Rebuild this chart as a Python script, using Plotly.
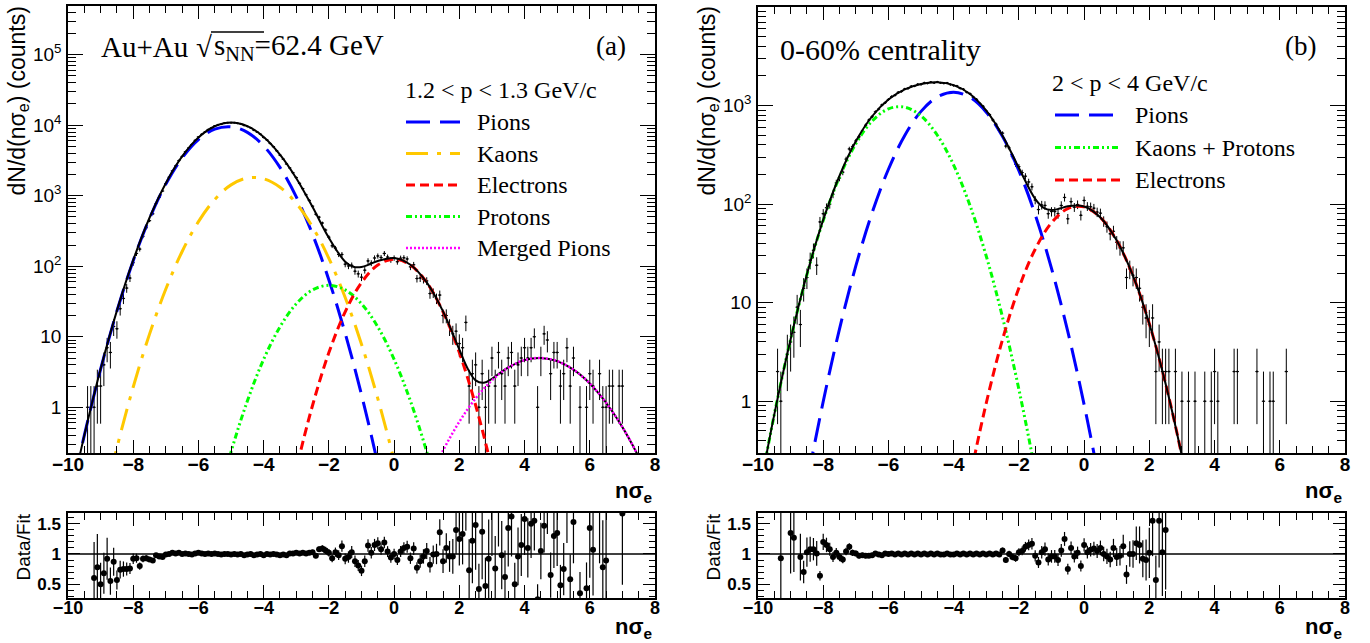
import numpy as np
import plotly.graph_objects as go

# ======================= DATA =======================
bin_width = 0.1

# ---- panel (a): histogram counts, bins starting at -9.4, width 0.1 ----
left_first_bin = -9.4
left_counts = [
    1, 1, 1, 2, 2, 4, 7, 6, 14, 13,                      # -9.4 .. -8.5
    25, 35, 49, 68, 112, 152, 175, 266, 351, 443,        # -8.4 .. -7.5
    554, 773, 949, 1166, 1492, 1828, 2247, 2646, 3149, 3605,   # -7.4 .. -6.5
    4205, 4754, 5327, 6095, 6829, 7418, 7986, 8693, 9157, 9772,  # -6.4 .. -5.5
    10113, 10353, 10719, 10871, 10816, 10874, 10620, 10469, 9911, 9607,  # -5.4 .. -4.5
    9207, 8486, 7996, 7457, 6684, 6187, 5514, 4963, 4339, 3762,  # -4.4 .. -3.5
    3303, 2813, 2476, 2121, 1809, 1499, 1260, 1032, 859, 711,    # -3.4 .. -2.5
    547, 497, 410, 326, 258, 195, 181, 147, 147, 107,            # -2.4 .. -1.5
    101, 103, 85, 78, 70, 88, 119, 111, 131, 140,                # -1.4 .. -0.5
    133, 152, 135, 123, 131, 116, 130, 132, 127, 98,             # -0.4 .. 0.5
    105, 67, 68, 65, 62, 41, 42, 35, 39, 20,                     # 0.6 .. 1.5
    20, 14, 11, 12, 8, 7, 16, 2, 3, 4,                           # 1.6 .. 2.5
    1, 3, 1, 2, 5, 2, 6, 3, 2, 5,                                # 2.6 .. 3.5
    6, 2, 4, 5, 7, 5, 7, 10, 1, 5,                               # 3.6 .. 4.5
    11, 9, 3, 6, 6, 2, 3, 7, 2, 5,                               # 4.6 .. 5.5
    0, 1, 0, 1, 3, 2, 0, 3, 1, 1,                                # 5.6 .. 6.5
    2, 2, 0, 2, 2,                                               # 6.6 .. 7.0
]
left_ratio = [
    None, None, 0.60, 0.78, 0.50, 0.68, 0.92, 0.55, 0.87, 0.57,
    0.74, 0.75, 0.75, 0.76, 0.92, 0.93, 0.80, 0.92, 0.93, 0.91,
    0.89, 0.98, 0.96, 0.95, 0.99, 1.00, 1.02, 1.01, 1.02, 1.00,
    1.01, 1.00, 0.99, 1.01, 1.02, 1.01, 1.00, 1.01, 1.00, 1.01,
    1.00, 0.99, 1.00, 1.00, 0.99, 1.00, 0.99, 1.00, 0.98, 0.99,
    1.00, 0.98, 0.99, 1.00, 0.98, 1.00, 0.99, 1.00, 0.99, 0.98,
    0.99, 0.98, 1.01, 1.01, 1.02, 1.01, 1.02, 1.01, 1.02, 1.03,
    0.97, 1.08, 1.09, 1.06, 1.02, 0.93, 1.03, 0.98, 1.13, 0.92,
    0.95, 1.03, 0.88, 0.81, 0.72, 0.88, 1.14, 1.02, 1.15, 1.18,
    1.08, 1.19, 1.04, 0.94, 1.00, 0.90, 1.04, 1.10, 1.12, 0.93,
    1.09, 0.77, 0.88, 0.96, 1.05, 0.82, 0.99, 1.00, 1.36, 0.88,
    1.10, 0.96, 0.96, 1.40, 1.25, 1.33, 1.85, 0.73, 1.22, 1.48,
    0.42, 1.37, 0.47, 0.92, 1.75, 0.76, 1.90, 0.98, 0.62, 1.43,
    1.62, 0.50, 0.96, 1.15, 1.58, 1.10, 1.50, 1.55, 0.25, 1.05,
    1.47, 2.00, 0.65, 1.30, 1.35, 0.48, 0.75, 1.90, 0.58, 1.53,
    None, 0.35, None, 0.43, 1.43, 1.07, None, 2.00, 0.78, 0.89,
    None, None, None, None, 1.67,
]

# ---- panel (b): histogram counts, bins starting at -9.4, width 0.1 ----
right_first_bin = -9.4
right_counts = [
    2, 1, 0, 3, 4, 5, 9, 6, 14, 18,                              # -9.4 .. -8.5
    27, 34, 24, 66, 80, 92, 100, 126, 164, 184,                  # -8.4 .. -7.5
    211, 286, 363, 385, 438, 482, 551, 632, 712, 771,            # -7.4 .. -6.5
    864, 921, 1016, 1070, 1153, 1234, 1273, 1362, 1393, 1476,    # -6.4 .. -5.5
    1493, 1569, 1577, 1644, 1640, 1699, 1683, 1730, 1701, 1739,  # -5.4 .. -4.5
    1698, 1681, 1696, 1631, 1595, 1581, 1495, 1463, 1368, 1321,  # -4.4 .. -3.5
    1217, 1157, 1050, 983, 879, 810, 714, 646, 559, 525,         # -3.4 .. -2.5
    388, 372, 304, 254, 240, 209, 192, 168, 150, 110,            # -2.4 .. -1.5
    88, 98, 97, 80, 84, 84, 80, 97, 117, 71,                     # -1.4 .. -0.5
    106, 93, 99, 77, 109, 95, 94, 91, 83, 81,                    # -0.4 .. 0.5
    67, 59, 50, 53, 41, 36, 36, 18, 22, 19,                      # 0.6 .. 1.5
    18, 14, 9, 7, 6, 7, 2, 4, 2, 2,                              # 1.6 .. 2.5
    2, 0, 2, 0, 1, 0, 1, 0, 1, 0,                                # 2.6 .. 3.5
    0, 1, 0, 1, 2, 1, 0, 0, 0, 0,                                # 3.6 .. 4.5
    2, 2, 0, 0, 0, 0, 0, 2, 0, 1,                                # 4.6 .. 5.5
    0, 1, 1, 0, 0, 0, 2,                                         # 5.6 .. 6.2
]
right_ratio = [
    None, 0.93, None, None, 1.35, 1.27, None, 0.95, 0.70, 1.03,
    1.08, 1.08, 1.01, 0.64, 1.20, 1.15, 1.08, 0.95, 1.02, 0.95,
    0.91, 1.04, 1.12, 1.02, 1.01, 0.97, 0.98, 0.97, 0.97, 0.98,
    1.01, 0.99, 0.98, 1.01, 1.00, 1.01, 0.99, 1.01, 0.99, 1.01,
    0.99, 1.01, 0.99, 1.01, 0.99, 1.01, 0.99, 1.01, 0.99, 1.01,
    0.99, 0.99, 1.01, 0.99, 0.99, 1.01, 0.99, 1.01, 0.99, 1.01,
    0.99, 1.01, 0.99, 1.01, 0.99, 1.01, 0.99, 1.01, 0.99, 1.06,
    0.90, 1.00, 0.95, 0.93, 1.03, 1.05, 1.12, 1.15, 1.17, 0.97,
    0.86, 1.03, 1.08, 0.91, 0.96, 0.96, 0.90, 1.06, 1.25, 0.75,
    1.10, 0.96, 1.02, 0.80, 1.15, 1.03, 1.07, 1.09, 1.05, 1.10,
    1.00, 0.96, 0.91, 1.10, 0.95, 0.97, 1.13, 0.66, 1.00, 1.00,
    1.18, 1.15, 0.92, 0.90, 1.02, 1.55, 0.57, 1.55, 1.03, 1.40,
] + [None] * 37

# ---- fit curves, sampled every 0.5 in n-sigma_e ----
curve_x = [-10.0, -9.5, -9.0, -8.5, -8.0, -7.5, -7.0, -6.5, -6.0, -5.5,
           -5.0, -4.5, -4.0, -3.5, -3.0, -2.5, -2.0, -1.5, -1.0, -0.5,
           0.0, 0.5, 1.0, 1.5, 2.0, 2.5, 3.0, 3.5, 4.0, 4.5,
           5.0, 5.5, 6.0, 6.5, 7.0, 7.5, 8.0]
N = None
a_pions = [0.035, 0.40, 3.47, 23.2, 120, 476, 1459, 3443, 6266, 8790,
           9500, 7920, 5080, 2520, 962, 283, 64, 11.2, 1.51, 0.157,
           0.0126, N, N, N, N, N, N, N, N, N, N, N, N, N, N, N, N]
a_kaons = [N, N, 0.029, 0.268, 1.94, 10.9, 47.5, 162, 429, 885,
           1425, 1783, 1738, 1321, 782, 360, 129, 36.1, 7.85, 1.33,
           0.175, 0.018, N, N, N, N, N, N, N, N, N, N, N, N, N, N, N]
a_protons = [N, N, N, N, N, N, N, N, N, 0.033,
             0.234, 1.23, 4.8, 13.8, 29.4, 46.2, 53.7, 46.2, 29.4, 13.8,
             4.8, 1.23, 0.234, 0.033, N, N, N, N, N, N, N, N, N, N, N, N, N]
a_electrons = [N, N, N, N, N, N, N, N, N, N, N, N, N, 0.011, 0.132, 1.07, 5.97, 22.6, 58.7, 104,
               126, 104, 58.7, 22.6, 5.97, 1.07, 0.132, 0.011, N, N, N, N, N, N, N, N, N]
a_merged = [N, N, N, N, N, N, N, N, N, N, N, N, N, N, N, N, N, N, N, N, N, N,
            0.08, 0.244, 0.624, 1.34, 2.41, 3.66, 4.67, 5.0, 4.51, 3.42, 2.18, 1.16, 0.524, 0.198, 0.063]
a_total_x = [-10, -9.5, -9, -8.5, -8, -7.5, -7, -6.5, -6, -5.5, -5, -4.5, -4, -3.5, -3, -2.5,
             -2, -1.5, -1.25, -1, -0.75, -0.5, 0, 0.5, 1, 1.5, 2, 2.25, 2.5, 2.75, 3, 3.25,
             3.5, 4, 4.5, 5, 5.5, 6, 6.5, 7, 7.5, 8]
a_total = [0.035, 0.40, 3.5, 23.5, 122, 487, 1507, 3605, 6695, 9675, 10925, 9704, 6820, 3839, 1774, 690,
           253, 116, 98.2, 97.5, 106.7, 119, 131, 105, 59, 22.9, 6.6, 3.58, 2.41, 2.23, 2.54, 3.08,
           3.67, 4.67, 5.0, 4.51, 3.42, 2.18, 1.16, 0.524, 0.198, 0.063]

b_pions = [N, N, 0.017, 0.145, 0.995, 5.42, 23.6, 81.8, 226, 498,
           873, 1222, 1362, 1211, 857, 484, 218, 78.2, 22.3, 5.09,
           0.925, 0.134, 0.0155, N, N, N, N, N, N, N, N, N, N, N, N, N, N]
b_kaons_protons = [0.1, 0.736, 4.26, 19.3, 68.2, 189, 410, 697, 927, 964,
                   784, 500, 249, 97, 29.6, 7.08, 1.32, 0.194, 0.022, N,
                   N, N, N, N, N, N, N, N, N, N, N, N, N, N, N, N, N]
b_electrons = [N, N, N, N, N, N, N, N, N, N, N, N, 0.02, 0.163, 0.96, 4.25, 14.1, 34.9, 64.7, 90,
               93.8, 73.1, 42.7, 18.7, 6.12, 1.5, 0.276, 0.038, N, N, N, N, N, N, N, N, N]
b_total_x = [-10, -9.5, -9, -8.5, -8, -7.5, -7, -6.5, -6, -5.5, -5, -4.5, -4, -3.5, -3, -2.5,
             -2, -1.5, -1.25, -1, -0.75, -0.5, 0, 0.5, 1, 1.5, 2, 2.5, 3, 3.5]
b_total = [0.1, 0.736, 4.26, 19.4, 69.2, 194, 434, 779, 1153, 1462, 1657, 1722, 1611, 1308, 888, 495,
           233, 113, 92.3, 87, 90.1, 95.1, 94.7, 73.2, 42.7, 18.7, 6.12, 1.5, 0.276, 0.038]

# tick labels
x_ticks = [-10, -8, -6, -4, -2, 0, 2, 4, 6, 8]
a_ytick_vals = [1, 10, 100, 1000, 10000, 100000]
a_ytick_text = ["1", "10", "10<sup>2</sup>", "10<sup>3</sup>", "10<sup>4</sup>", "10<sup>5</sup>"]
b_ytick_vals = [1, 10, 100, 1000, 10000]
b_ytick_text = ["1", "10", "10<sup>2</sup>", "10<sup>3</sup>", "10<sup>4</sup>"]
r_ytick_vals = [0.5, 1, 1.5]
r_ytick_text = ["0.5", "1", "1.5"]

# ======================= FIGURE =======================
W, H = 1370, 643
def PX(v): return v / W
def PY(v): return 1 - v / H

SANS = "Liberation Sans"
SERIF = "Liberation Serif"

C_PI = "#0000ff"
C_K = "#ffc800"
C_E = "#ff0000"
C_P = "#00ff00"
C_M = "#ff00ff"

D_PI = "24px,10px"
D_K = "22px,9px,4px,9px"
D_E = "9px,5px"
D_P = "6px,3px,2px,3px,2px,3px"
D_M = "2px,2px"

fig = go.Figure()

def hist_points(first, counts, xa, ya):
    c = np.array(counts, dtype=float)
    x = np.round(first + bin_width * np.arange(len(c)), 3)
    m = c > 0
    c, x = c[m], x[m]
    e = np.sqrt(c)
    low = np.maximum(c - e, 0.02)
    fig.add_trace(go.Scatter(
        x=x, y=c, mode="markers", xaxis=xa, yaxis=ya,
        marker=dict(size=2, color="black"),
        error_y=dict(type="data", symmetric=False, array=e, arrayminus=c - low,
                     color="black", thickness=1, width=0),
        error_x=dict(type="constant", value=bin_width / 2, color="black", thickness=1, width=0),
        showlegend=False, hoverinfo="skip"))

def ratio_points(first, counts, ratio, xa, ya):
    c = np.array(counts, dtype=float)
    r = np.array([np.nan if v is None else v for v in ratio], dtype=float)
    x = np.round(first + bin_width * np.arange(len(c)), 3)
    m = ~np.isnan(r) & (c > 0)
    x, r, c = x[m], r[m], c[m]
    e = r / np.sqrt(c)
    fig.add_trace(go.Scatter(
        x=x, y=r, mode="markers", xaxis=xa, yaxis=ya,
        marker=dict(size=6, color="black"),
        error_y=dict(type="data", array=e, color="black", thickness=1.2, width=0),
        showlegend=False, hoverinfo="skip", cliponaxis=True))

def curve(xs, ys, color, dash, width, xa, ya):
    pts = [(a, b) for a, b in zip(xs, ys) if b is not None]
    fig.add_trace(go.Scatter(
        x=[p[0] for p in pts], y=[p[1] for p in pts], mode="lines",
        xaxis=xa, yaxis=ya,
        line=dict(color=color, dash=dash, width=width, shape="spline", smoothing=1.0),
        showlegend=False, hoverinfo="skip"))

# panel (a)
hist_points(left_first_bin, left_counts, "x", "y")
curve(curve_x, a_pions, C_PI, D_PI, 3, "x", "y")
curve(curve_x, a_kaons, C_K, D_K, 3, "x", "y")
curve(curve_x, a_protons, C_P, D_P, 3, "x", "y")
curve(curve_x, a_electrons, C_E, D_E, 3, "x", "y")
curve(a_total_x, a_total, "black", "solid", 2, "x", "y")
curve(curve_x, a_merged, C_M, D_M, 2.5, "x", "y")
ratio_points(left_first_bin, left_counts, left_ratio, "x2", "y2")

# panel (b)
hist_points(right_first_bin, right_counts, "x3", "y3")
curve(curve_x, b_pions, C_PI, D_PI, 3, "x3", "y3")
curve(curve_x, b_kaons_protons, C_P, D_P, 3, "x3", "y3")
curve(curve_x, b_electrons, C_E, D_E, 3, "x3", "y3")
curve(b_total_x, b_total, "black", "solid", 2, "x3", "y3")
ratio_points(right_first_bin, right_counts, right_ratio, "x4", "y4")

def minor_log(lo, hi):
    out = []
    for d in range(-1, 6):
        for k in range(2, 10):
            v = k * 10 ** d
            if lo <= v <= hi:
                out.append(v)
    return out

axis_common = dict(showline=True, linecolor="black", linewidth=1.5, mirror="allticks",
                   ticks="inside", tickcolor="black", tickwidth=1.2, showgrid=False,
                   zeroline=False, automargin=False)

def xaxis_cfg(domain, size, anchor):
    return dict(axis_common, domain=domain, range=[-10, 8], tickvals=x_ticks,
                ticklen=13, anchor=anchor, ticklabelstandoff=-7,
                minor=dict(dtick=0.5, tick0=0, ticklen=7, ticks="inside", tickcolor="black", tickwidth=1.2),
                tickfont=dict(family=SANS, size=size, color="black", weight="bold"))

xa_dom = [PX(68), PX(655)]
xb_dom = [PX(758), PX(1345)]
main_dom_a = [PY(453), PY(6)]
main_dom_b = [PY(453), PY(7)]
ratio_dom = [PY(598), PY(513)]

ya_range = [np.log10(0.225), 5.69]
yb_range = [-0.525, 4.0]

def ylog_cfg(domain, rng, vals, text, anchor):
    return dict(axis_common, domain=domain, type="log", range=rng, tickvals=vals, ticktext=text,
                ticklen=15, anchor=anchor, ticklabelstandoff=1,
                minor=dict(tickvals=minor_log(10 ** rng[0], 10 ** rng[1]), ticklen=8,
                           ticks="inside", tickcolor="black", tickwidth=1.2),
                tickfont=dict(family=SANS, size=19, color="black"))

def yratio_cfg(anchor):
    return dict(axis_common, domain=ratio_dom, range=[0.27, 1.68], tickvals=r_ytick_vals,
                ticktext=r_ytick_text, ticklen=12, anchor=anchor, ticklabelstandoff=2,
                minor=dict(dtick=0.1, tick0=0, ticklen=6, ticks="inside", tickcolor="black", tickwidth=1.2),
                tickfont=dict(family=SANS, size=17, color="black", weight="bold"))

fig.update_layout(
    width=W, height=H, margin=dict(l=0, r=0, t=0, b=0, autoexpand=False),
    paper_bgcolor="white", plot_bgcolor="white", showlegend=False,
    xaxis=xaxis_cfg(xa_dom, 19, "y"),
    yaxis=ylog_cfg(main_dom_a, ya_range, a_ytick_vals, a_ytick_text, "x"),
    xaxis2=xaxis_cfg(xa_dom, 18, "y2"),
    yaxis2=yratio_cfg("x2"),
    xaxis3=xaxis_cfg(xb_dom, 19, "y3"),
    yaxis3=ylog_cfg(main_dom_b, yb_range, b_ytick_vals, b_ytick_text, "x3"),
    xaxis4=xaxis_cfg(xb_dom, 18, "y4"),
    yaxis4=yratio_cfg("x4"),
)

shapes = []
for xa, ya in (("x2", "y2"), ("x4", "y4")):
    shapes.append(dict(type="line", xref=xa, yref=ya, x0=-10, x1=8, y0=1, y1=1,
                       line=dict(color="black", width=1.5)))

ann = []
def text(x, y, s, size, family=SERIF, xanchor="left", yanchor="middle", weight="normal", angle=0):
    ann.append(dict(x=PX(x), y=PY(y), xref="paper", yref="paper", text=s, showarrow=False,
                    xanchor=xanchor, yanchor=yanchor, textangle=angle,
                    font=dict(family=family, size=size, color="black", weight=weight)))

def leg_line(x0, x1, y, color, dash, width=3):
    shapes.append(dict(type="line", xref="paper", yref="paper", x0=PX(x0), x1=PX(x1),
                       y0=PY(y), y1=PY(y), line=dict(color=color, dash=dash, width=width)))

# panel (a) texts
text(99, 47, "Au+Au", 29)
text(214, 47, "\u221a", 29, xanchor="right")
text(212, 47, "s<sub>NN</sub>=62.4 GeV", 29)
shapes.append(dict(type="line", xref="paper", yref="paper", x0=PX(211), x1=PX(264),
                   y0=PY(32), y1=PY(32), line=dict(color="black", width=1.5)))
text(628, 46, "(a)", 27, xanchor="right")
text(403, 90, "1.2 &lt; p &lt; 1.3 GeV/c", 24)
leg_items_a = [("Pions", C_PI, D_PI, 3), ("Kaons", C_K, D_K, 3), ("Electrons", C_E, D_E, 3),
               ("Protons", C_P, D_P, 3), ("Merged Pions", C_M, D_M, 2.5)]
for i, (lab, col, dsh, w) in enumerate(leg_items_a):
    yy = 122 + i * 31.5
    leg_line(406, 460, yy, col, dsh, w)
    text(475, yy, lab, 24)

# panel (b) texts
text(778, 49, "0-60% centrality", 30)
text(1318, 46, "(b)", 27, xanchor="right")
text(1050, 83, "2 &lt; p &lt; 4 GeV/c", 24)
leg_items_b = [("Pions", C_PI, D_PI), ("Kaons + Protons", C_P, D_P), ("Electrons", C_E, D_E)]
for i, (lab, col, dsh) in enumerate(leg_items_b):
    yy = 115 + i * 32.5
    leg_line(1055, 1120, yy, col, dsh, 3)
    text(1133, yy, lab, 24)

# axis titles
for off in (0, 690):
    text(18 + off, 5, "dN/d(n\u03c3<sub>e</sub>) (counts)", 23, family=SANS, xanchor="center",
         yanchor="top", angle=-90)
    text(23 + off, 512, "Data/Fit", 19, family=SANS, xanchor="center", yanchor="top", angle=-90)
    text(655 + off, 492, "n\u03c3<sub>e</sub>", 22, family=SANS, xanchor="right", weight="bold")
    text(655 + off, 628, "n\u03c3<sub>e</sub>", 22, family=SANS, xanchor="right", weight="bold")

fig.update_layout(shapes=shapes, annotations=ann)
fig.write_html("out.html", config={"displayModeBar": False},
               post_script="document.body.style.margin='0px';document.body.style.padding='0px';")
